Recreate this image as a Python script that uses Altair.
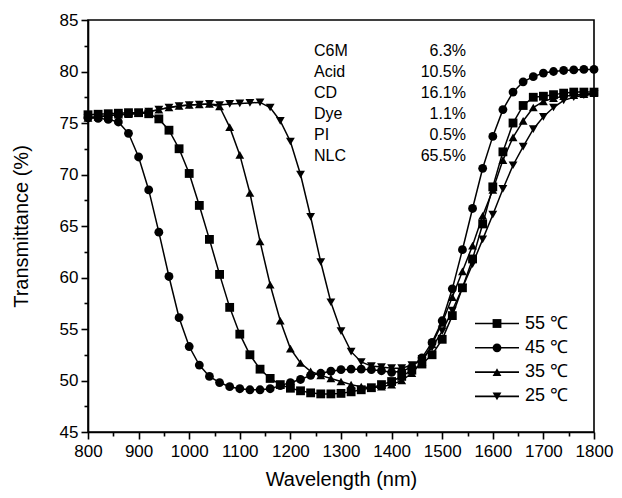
import altair as alt
import pandas as pd

wavelength = [800, 820, 840, 860, 880, 900, 920, 940, 960, 980,
              1000, 1020, 1040, 1060, 1080, 1100, 1120, 1140, 1160, 1180,
              1200, 1220, 1240, 1260, 1280, 1300, 1320, 1340, 1360, 1380,
              1400, 1420, 1440, 1460, 1480, 1500, 1520, 1540, 1560, 1580,
              1600, 1620, 1640, 1660, 1680, 1700, 1720, 1740, 1760, 1780, 1800]

t55 = [75.8, 75.85, 75.9, 75.95, 76.0, 76.0, 75.9, 75.4, 74.3, 72.5,
       70.1, 67.0, 63.7, 60.3, 57.1, 54.5, 52.5, 51.1, 50.2, 49.6,
       49.25, 49.0, 48.8, 48.7, 48.7, 48.75, 48.9, 49.1, 49.3, 49.6,
       49.9, 50.4, 51.0, 51.6, 52.5, 54.0, 56.3, 59.0, 61.8, 65.2,
       68.8, 72.2, 75.0, 76.7, 77.5, 77.6, 77.75, 77.9, 78.0, 78.0, 78.0]

t45 = [75.5, 75.45, 75.35, 75.1, 74.0, 71.7, 68.5, 64.4, 60.1, 56.1,
       53.3, 51.5, 50.4, 49.8, 49.4, 49.2, 49.1, 49.1, 49.2, 49.5,
       49.8, 50.1, 50.5, 50.7, 50.9, 51.05, 51.1, 51.1, 51.05, 50.95,
       50.8, 50.9, 51.3, 52.2, 53.7, 55.8, 58.9, 62.7, 66.7, 70.6,
       73.7, 76.3, 78.0, 79.0, 79.5, 79.85, 80.0, 80.1, 80.15, 80.2, 80.2]

t35 = [75.5, 75.6, 75.7, 75.8, 75.85, 75.95, 76.1, 76.3, 76.5, 76.65,
       76.75, 76.8, 76.85, 76.6, 74.6, 71.9, 68.2, 63.5, 59.3, 55.8,
       53.1, 51.7, 50.9, 50.5, 50.2, 49.9, 49.6, 49.4, 49.3, 49.4,
       49.6, 50.0, 50.7, 51.8, 53.5, 55.6, 58.1, 60.6, 63.1, 66.0,
       68.5, 71.4, 73.6, 75.2, 76.5, 77.1, 77.4, 77.6, 77.7, 77.8, 77.9]

t25 = [75.5, 75.6, 75.7, 75.8, 75.85, 75.95, 76.1, 76.3, 76.5, 76.65,
       76.75, 76.8, 76.85, 76.75, 76.85, 76.9, 76.95, 77.0, 76.5, 75.2,
       73.2, 70.0, 65.9, 61.5, 57.6, 54.8, 52.8, 51.8, 51.4, 51.3,
       51.2, 51.2, 51.5, 52.1, 53.2, 54.8, 56.8, 59.0, 61.3, 63.7,
       66.1, 68.6, 70.9, 72.7, 74.4, 75.6, 76.5, 77.2, 77.5, 77.7, 77.8]

series_labels = ["55 \u2103", "45 \u2103", "35 \u2103", "25 \u2103"]
series_shapes = ["square", "circle", "triangle-up", "triangle-down"]

comp_names = ["C6M", "Acid", "CD", "Dye", "PI", "NLC"]
comp_values = ["6.3%", "10.5%", "16.1%", "1.1%", "0.5%", "65.5%"]

x_ticks = [800, 850, 900, 950, 1000, 1050, 1100, 1150, 1200, 1250, 1300,
           1350, 1400, 1450, 1500, 1550, 1600, 1650, 1700, 1750, 1800]
y_ticks = [45, 47.5, 50, 52.5, 55, 57.5, 60, 62.5, 65, 67.5, 70,
           72.5, 75, 77.5, 80, 82.5, 85]

# ---- tables ----
rows = []
for lab, vals in zip(series_labels, [t55, t45, t35, t25]):
    for w, v in zip(wavelength, vals):
        rows.append({"wl": w, "T": v, "series": lab})
df = pd.DataFrame(rows)

W, H = 506, 412
FONT = "Liberation Sans"
MARK_SIZE = 78

# annotation layout (pixels inside plot area)
TXT_Y0, TXT_DY = 31, 21
NAME_X, VAL_X = 226, 378
comp_df = pd.DataFrame({
    "name": comp_names,
    "val": comp_values,
    "py": [TXT_Y0 + i * TXT_DY for i in range(len(comp_names))],
})

LEG_Y0, LEG_DY = 303.5, 24.3
leg_df = pd.DataFrame({
    "series": series_labels,
    "py": [LEG_Y0 + i * LEG_DY for i in range(len(series_labels))],
})

shape_scale = alt.Scale(domain=series_labels, range=series_shapes)

x_enc = alt.X(
    "wl:Q",
    scale=alt.Scale(domain=[800, 1800], nice=False, zero=False),
    axis=alt.Axis(
        values=x_ticks,
        labelExpr="datum.value % 100 === 0 ? datum.label : ''",
        format="d",
        title="Wavelength (nm)",
        tickSize={"condition": {"test": "datum.value % 100 === 0", "value": 7}, "value": 4},
        labelPadding=4,
        titlePadding=10,
        labelFlush=False,
        labelOverlap=False,
    ),
)
y_enc = alt.Y(
    "T:Q",
    scale=alt.Scale(domain=[45, 85], nice=False, zero=False),
    axis=alt.Axis(
        values=y_ticks,
        labelExpr="datum.value % 5 === 0 ? datum.label : ''",
        title="Transmittance (%)",
        tickSize={"condition": {"test": "datum.value % 5 === 0", "value": 7}, "value": 4},
        labelPadding=3,
        titlePadding=28,
        labelFlush=False,
        labelOverlap=False,
    ),
)

lines = alt.Chart(df).mark_line(color="black", strokeWidth=1.5).encode(
    x=x_enc, y=y_enc, detail="series:N"
)
points = alt.Chart(df).mark_point(filled=True, color="black", opacity=1, size=MARK_SIZE).encode(
    x=x_enc, y=y_enc,
    shape=alt.Shape("series:N", scale=shape_scale, legend=None),
)

names = alt.Chart(comp_df).mark_text(
    align="left", baseline="middle", font=FONT, fontSize=16, color="black"
).encode(
    x=alt.value(NAME_X),
    y=alt.Y("py:Q", scale=None, axis=None),
    text="name:N",
)
vals = alt.Chart(comp_df).mark_text(
    align="right", baseline="middle", font=FONT, fontSize=16, color="black"
).encode(
    x=alt.value(VAL_X),
    y=alt.Y("py:Q", scale=None, axis=None),
    text="val:N",
)

leg_rule = alt.Chart(leg_df).mark_rule(color="black", strokeWidth=1.6).encode(
    x=alt.value(387), x2=alt.value(431),
    y=alt.Y("py:Q", scale=None, axis=None),
)
leg_pts = alt.Chart(leg_df).mark_point(filled=True, color="black", opacity=1, size=MARK_SIZE).encode(
    x=alt.value(409),
    y=alt.Y("py:Q", scale=None, axis=None),
    shape=alt.Shape("series:N", scale=shape_scale, legend=None),
)
leg_txt = alt.Chart(leg_df).mark_text(
    align="left", baseline="middle", font=FONT, fontSize=18, color="black"
).encode(
    x=alt.value(437),
    y=alt.Y("py:Q", scale=None, axis=None),
    text="series:N",
)

chart = alt.layer(lines, points, names, vals, leg_rule, leg_pts, leg_txt).properties(
    width=W, height=H,
    autosize="none",
    padding={"left": 80, "top": 12, "right": 20, "bottom": 58},
    background="white",
).configure_view(
    stroke="black", strokeWidth=1.6
).configure_axis(
    domainColor="black", domainWidth=1.6,
    tickColor="black", tickWidth=1.6,
    labelColor="black", labelFont=FONT, labelFontSize=17,
    titleColor="black", titleFont=FONT, titleFontSize=20, titleFontWeight="normal",
    grid=False,
)

chart.save("out.html", embed_options={"renderer": "svg", "actions": False})
